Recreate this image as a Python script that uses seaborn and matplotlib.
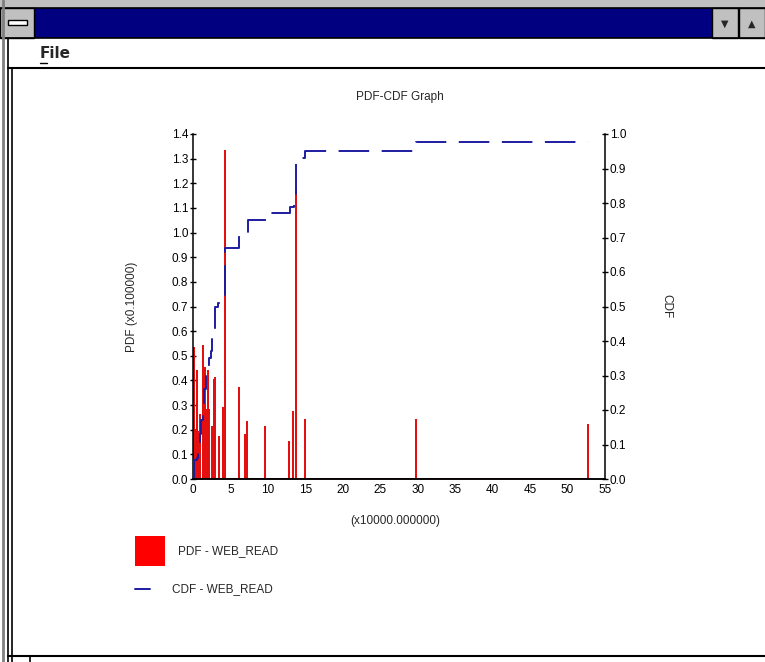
import pandas as pd
import seaborn as sns
import matplotlib.pyplot as plt
from matplotlib.patches import Rectangle
from matplotlib.lines import Line2D

# PDF spikes: position (x10000) and height (x0.1)
pdf_x = [0.1, 0.35, 0.55, 0.8, 1.0, 1.35, 1.5, 1.65, 1.8, 1.95, 2.05, 2.2,
         2.55, 2.8, 3.0, 3.5, 4.0, 4.3, 6.1, 7.0, 7.2, 9.6, 12.8, 13.4,
         13.8, 14.9, 29.8, 52.7]
pdf_h = [0.53, 0.20, 0.44, 0.19, 0.26, 0.54, 0.28, 0.45, 0.28, 0.44, 0.33, 0.28,
         0.21, 0.40, 0.41, 0.17, 0.29, 1.33, 0.37, 0.18, 0.23, 0.21, 0.15, 0.27,
         1.17, 0.24, 0.24, 0.22]

# CDF steps
cdf_x = [0.0, 0.1, 0.55, 0.7, 0.9, 1.1, 1.3, 1.5, 1.7, 1.9, 2.1, 2.4, 2.6,
         2.95, 3.4, 3.9, 4.3, 6.2, 7.3, 9.7, 12.9, 13.5, 13.8, 14.9, 29.8, 52.7]
cdf_y = [0.0, 0.055, 0.06, 0.10, 0.13, 0.17, 0.22, 0.26, 0.30, 0.32, 0.35, 0.37, 0.42,
         0.50, 0.51, 0.53, 0.67, 0.71, 0.75, 0.77, 0.787, 0.814, 0.93, 0.952, 0.978, 0.978]

x_ticks = [0, 5, 10, 15, 20, 25, 30, 35, 40, 45, 50, 55]
pdf_ticks = [0.0, 0.1, 0.2, 0.3, 0.4, 0.5, 0.6, 0.7, 0.8, 0.9, 1.0, 1.1, 1.2, 1.3, 1.4]
cdf_ticks = [0.0, 0.1, 0.2, 0.3, 0.4, 0.5, 0.6, 0.7, 0.8, 0.9, 1.0]

sns.set_style('white')
plt.rcParams['font.family'] = ['Liberation Sans', 'DejaVu Sans']
plt.rcParams['lines.scale_dashes'] = False

W, H = 765, 662
fig = plt.figure(figsize=(W / 100, H / 100), dpi=100)
fig.patch.set_facecolor('white')

def fx(px):
    return px / W

def fy(py):
    return 1 - py / H

# ---- window chrome ----
def rect(x0, y0, x1, y1, fc, ec='none', lw=0):
    fig.patches.append(Rectangle((fx(x0), fy(y1)), fx(x1 - x0), (y1 - y0) / H,
                                 transform=fig.transFigure, facecolor=fc,
                                 edgecolor=ec, linewidth=lw, zorder=0))

def hline(y, x0, x1, c='black', lw=1.5):
    fig.lines.append(Line2D([fx(x0), fx(x1)], [fy(y), fy(y)], transform=fig.transFigure,
                            color=c, lw=lw))

def vline(x, y0, y1, c='black', lw=1.5):
    fig.lines.append(Line2D([fx(x), fx(x)], [fy(y0), fy(y1)], transform=fig.transFigure,
                            color=c, lw=lw))

rect(0, 0, W, 8, '#c0c0c0')
rect(0, 8, W, 38, '#000080')
rect(0, 8, 34, 38, '#c0c0c0', ec='black', lw=1)
rect(8, 20, 27, 25, 'white', ec='black', lw=1)
rect(712, 8, 738, 38, '#c0c0c0', ec='black', lw=1)
rect(739, 8, W, 38, '#c0c0c0', ec='black', lw=1)
fig.text(fx(725), fy(24), '\u25bc', ha='center', va='center', fontsize=7,
         family=['DejaVu Sans'])
fig.text(fx(752), fy(24), '\u25b2', ha='center', va='center', fontsize=7,
         family=['DejaVu Sans'])
hline(8, 0, W, lw=1.2)
hline(38, 0, W, lw=1.2)
hline(68, 8, W, lw=1.5)
hline(656, 8, W, lw=1.5)
vline(3, 0, H, c='#808080', lw=2)
vline(8, 38, H, lw=1.2)
vline(12, 68, H, lw=1.2)
vline(30, 656, H, lw=1.2)
fig.text(fx(40), fy(53), 'File', ha='left', va='center', fontsize=11,
         fontweight='bold', family=['DejaVu Sans'])
hline(63, 40, 47, lw=1)

# ---- chart ----
ax = fig.add_axes([fx(193), fy(479), fx(605) - fx(193), 345 / H])
ax.set_facecolor('none')

px, py = [0.0], [0.0]
for x, h in zip(pdf_x, pdf_h):
    px += [x, x, x]
    py += [0.0, h, 0.0]
pdf_df = pd.DataFrame({'x': px, 'y': py})
sns.lineplot(data=pdf_df, x='x', y='y', estimator=None, sort=False,
             color='#e41010', lw=1.4, ax=ax)

ax2 = ax.twinx()
cdf_df = pd.DataFrame({'x': cdf_x, 'cdf': cdf_y})
sns.lineplot(data=cdf_df, x='x', y='cdf', estimator=None, sort=False,
             drawstyle='steps-post', color='#1c1ca0', lw=1.4, ax=ax2,
             dashes=False)
ax2.lines[0].set_dashes([22, 9])

for a in (ax, ax2):
    a.set_xlim(0, 55)
    for s in a.spines.values():
        s.set_color('black')
        s.set_linewidth(1.1)
    a.spines['top'].set_visible(False)
    a.tick_params(direction='inout', length=5, width=1, labelsize=8.5, pad=1,
                  colors='black')
ax.set_ylim(0, 1.4)
ax2.set_ylim(0, 1.0)
ax.set_xticks(x_ticks)
ax.set_yticks(pdf_ticks)
ax.set_yticklabels([f'{v:.1f}' for v in pdf_ticks])
ax2.set_yticks(cdf_ticks)
ax2.set_yticklabels([f'{v:.1f}' for v in cdf_ticks])
ax.spines['right'].set_visible(False)
ax2.spines['left'].set_visible(False)

ax.set_xlabel('(x10000.000000)', fontsize=8.5)
ax.xaxis.set_label_coords(0.49, -0.105)
ax.set_ylabel('PDF (x0.100000)', fontsize=8.5)
ax.yaxis.set_label_coords(-0.133, 0.5)
ax2.set_ylabel('CDF', fontsize=8.5, rotation=270, va='center')
ax2.yaxis.set_label_coords(1.15, 0.5)

fig.text(fx(400), fy(97), 'PDF-CDF Graph', ha='center', va='center', fontsize=8.5)

# ---- legend ----
rect(135, 536, 165, 566, '#ff0000')
fig.text(fx(178), fy(551), 'PDF - WEB_READ', ha='left', va='center', fontsize=8.5)
fig.lines.append(Line2D([fx(135), fx(150)], [fy(589), fy(589)], transform=fig.transFigure,
                        color='#1c1ca0', lw=1.4))
fig.text(fx(172), fy(589), 'CDF - WEB_READ', ha='left', va='center', fontsize=8.5)

fig.savefig('out.png', dpi=100)
